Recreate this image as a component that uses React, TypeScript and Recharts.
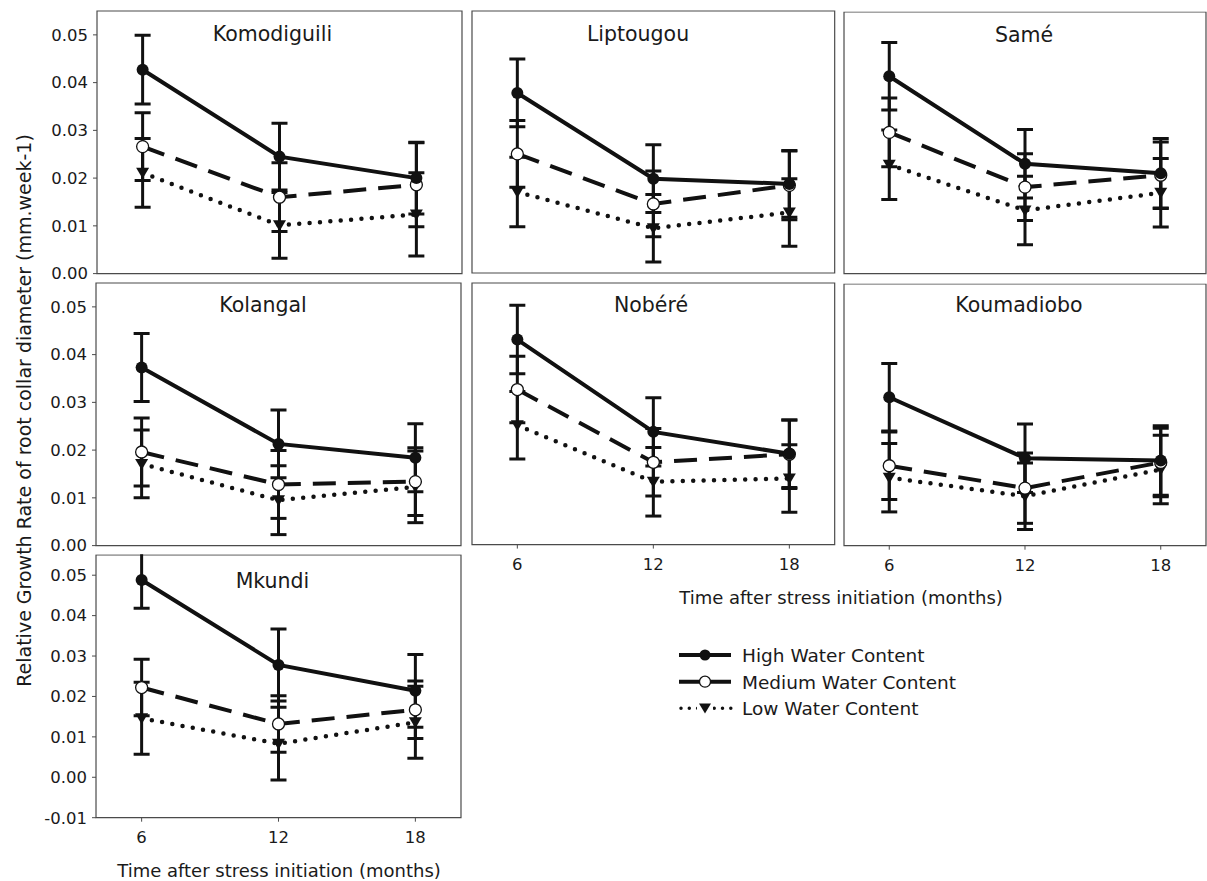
import React from 'react'
import { LineChart, Line, XAxis, YAxis, ErrorBar, ReferenceArea } from 'recharts'

const months = [6, 12, 18]
const sites = ['Komodiguili', 'Liptougou', 'Samé', 'Kolangal', 'Nobéré', 'Koumadiobo', 'Mkundi']

// rows follow `sites`, columns follow `months`
const highMean = [
  [0.0427, 0.0245, 0.02],
  [0.0378, 0.0198, 0.0187],
  [0.0415, 0.0231, 0.0211],
  [0.0373, 0.0213, 0.0184],
  [0.0431, 0.0237, 0.0191],
  [0.0312, 0.0184, 0.0179],
  [0.0488, 0.0278, 0.0214],
]
const highErr = [
  [0.0072, 0.007, 0.0075],
  [0.0071, 0.0071, 0.007],
  [0.0071, 0.0072, 0.0073],
  [0.0071, 0.0071, 0.0071],
  [0.0072, 0.0072, 0.0071],
  [0.0071, 0.0072, 0.0073],
  [0.007, 0.0089, 0.009],
]
const medMean = [
  [0.0266, 0.016, 0.0186],
  [0.025, 0.0145, 0.0184],
  [0.0297, 0.0182, 0.0207],
  [0.0196, 0.0128, 0.0134],
  [0.0326, 0.0173, 0.019],
  [0.0168, 0.0121, 0.0175],
  [0.0222, 0.0132, 0.0167],
]
const medErr = [
  [0.0071, 0.0072, 0.0088],
  [0.007, 0.0069, 0.0072],
  [0.0072, 0.007, 0.007],
  [0.0071, 0.0071, 0.0071],
  [0.007, 0.0071, 0.0072],
  [0.0071, 0.0074, 0.0072],
  [0.007, 0.007, 0.0071],
]
const lowMean = [
  [0.0211, 0.0101, 0.0124],
  [0.017, 0.0094, 0.0127],
  [0.0229, 0.0133, 0.017],
  [0.0171, 0.0095, 0.0123],
  [0.0251, 0.0132, 0.0139],
  [0.0143, 0.0104, 0.016],
  [0.0146, 0.0083, 0.0136],
]
const lowErr = [
  [0.0072, 0.0069, 0.0087],
  [0.0073, 0.0071, 0.0071],
  [0.0073, 0.0072, 0.0072],
  [0.0071, 0.0072, 0.0075],
  [0.0071, 0.0072, 0.0071],
  [0.0072, 0.007, 0.0072],
  [0.0089, 0.009, 0.0089],
]
const yTicks = [0, 0.01, 0.02, 0.03, 0.04, 0.05]
const yTicksMkundi = [-0.01, 0, 0.01, 0.02, 0.03, 0.04, 0.05]
const legendLabels = ['High Water Content', 'Medium Water Content', 'Low Water Content']

// panel boxes (plot area) in page pixels
const panels = [
  { site: 0, left: 96.5, top: 10.7, w: 365, h: 262.6, yLabels: true, xLabels: false, titleX: 272.5, titleY: 40.7 },
  { site: 1, left: 472, top: 10.7, w: 362.7, h: 262, yLabels: false, xLabels: false, titleX: 638, titleY: 40.7 },
  { site: 2, left: 844, top: 12.3, w: 362, h: 261.7, yLabels: false, xLabels: false, titleX: 1024, titleY: 42 },
  { site: 3, left: 96, top: 282.7, w: 365, h: 262.6, yLabels: true, xLabels: false, titleX: 263, titleY: 312 },
  { site: 4, left: 472, top: 282.7, w: 362.7, h: 261.6, yLabels: false, xLabels: true, titleX: 651, titleY: 311.5 },
  { site: 5, left: 844, top: 284.3, w: 362, h: 261.7, yLabels: false, xLabels: true, titleX: 1019, titleY: 312 },
  { site: 6, left: 95.5, top: 555, w: 365, h: 262.7, yLabels: true, xLabels: true, titleX: 272.5, titleY: 587.5 },
]

const INK = '#111'
const AXIS = '#4a4a4a'
const YW = 62
const MT = 6
const MR = 6
const XH = 40

const filledDot = (p: any) => (
  <circle key={`h${p.index}`} cx={p.cx} cy={p.cy} r={6} fill={INK} />
)
const openDot = (p: any) => (
  <circle key={`m${p.index}`} cx={p.cx} cy={p.cy} r={6} fill="#fff" stroke={INK} strokeWidth={1.3} />
)
const triangleDot = (p: any) => (
  <path
    key={`l${p.index}`}
    d={`M${p.cx - 6.5},${p.cy - 5} L${p.cx + 6.5},${p.cy - 5} L${p.cx},${p.cy + 6} Z`}
    fill={INK}
  />
)

function Panel({ cfg }: { cfg: (typeof panels)[number] }) {
  const i = cfg.site
  const isMk = sites[i] === 'Mkundi'
  const yMin = isMk ? -0.01 : 0
  const data = months.map((m, j) => ({
    month: m,
    high: highMean[i][j],
    highErr: highErr[i][j],
    med: medMean[i][j],
    medErr: medErr[i][j],
    low: lowMean[i][j],
    lowErr: lowErr[i][j],
  }))
  const tickStyle = { fontSize: 16.5, fill: '#1a1a1a' }

  return (
    // clip anything that pokes above the top of the box (error bars running off scale)
    <div
      style={{
        position: 'absolute',
        left: cfg.left - YW,
        top: cfg.top - MT,
        clipPath: `inset(${MT - 0.7}px 0 0 0)`,
      }}
    >
      <LineChart
        width={YW + cfg.w + MR}
        height={MT + cfg.h + XH}
        data={data}
        margin={{ top: MT, right: MR, bottom: 0, left: 0 }}
      >
        <XAxis
          type="number"
          dataKey="month"
          domain={[4, 20]}
          ticks={months}
          allowDataOverflow
          height={XH}
          axisLine={false}
          tickLine={{ stroke: AXIS }}
          tickSize={4}
          tickMargin={10}
          tick={cfg.xLabels ? tickStyle : false}
        />
        <YAxis
          type="number"
          domain={[yMin, 0.055]}
          ticks={isMk ? yTicksMkundi : yTicks}
          allowDataOverflow
          width={YW}
          axisLine={false}
          tickLine={{ stroke: AXIS }}
          tickSize={4}
          tickMargin={5}
          tickFormatter={(v: number) => v.toFixed(2)}
          tick={cfg.yLabels ? tickStyle : false}
        />
        <ReferenceArea x1={4} x2={20} y1={yMin} y2={0.055} fill="none" stroke={AXIS} strokeWidth={1.2} ifOverflow="visible" />
        <Line dataKey="low" stroke={INK} strokeWidth={4.5} strokeDasharray="0 10.4" strokeLinecap="round" dot={triangleDot} activeDot={false} isAnimationActive={false} />
        <Line dataKey="med" stroke={INK} strokeWidth={4} strokeDasharray="23 12" dot={openDot} activeDot={false} isAnimationActive={false} />
        <Line dataKey="high" stroke={INK} strokeWidth={4} dot={filledDot} activeDot={false} isAnimationActive={false} />
        {/* error bars drawn last so they sit over the markers */}
        <Line dataKey="low" stroke="none" dot={false} activeDot={false} isAnimationActive={false}>
          <ErrorBar dataKey="lowErr" width={8} strokeWidth={3} stroke={INK} />
        </Line>
        <Line dataKey="med" stroke="none" dot={false} activeDot={false} isAnimationActive={false}>
          <ErrorBar dataKey="medErr" width={8} strokeWidth={3} stroke={INK} />
        </Line>
        <Line dataKey="high" stroke="none" dot={false} activeDot={false} isAnimationActive={false}>
          <ErrorBar dataKey="highErr" width={8} strokeWidth={3} stroke={INK} />
        </Line>
      </LineChart>
    </div>
  )
}

export default function App() {
  const xTitle = 'Time after stress initiation (months)'
  return (
    <div
      style={{
        position: 'absolute',
        left: 0,
        top: 0,
        width: 1207,
        height: 881,
        background: '#fff',
        overflow: 'hidden',
        fontFamily: '"DejaVu Sans", sans-serif',
      }}
    >
      {panels.map((p) => (
        <Panel key={p.site} cfg={p} />
      ))}
      <svg width={1207} height={881} style={{ position: 'absolute', left: 0, top: 0, pointerEvents: 'none' }}>
        {panels.map((p) => (
          <text key={p.site} x={p.titleX} y={p.titleY} textAnchor="middle" fontSize={20.5} fill="#1a1a1a">
            {sites[p.site]}
          </text>
        ))}
        <text transform="translate(31,410.5) rotate(-90)" textAnchor="middle" fontSize={19} fill="#1a1a1a">
          Relative Growth Rate of root collar diameter (mm.week-1)
        </text>
        <text x={279} y={876.5} textAnchor="middle" fontSize={18} fill="#1a1a1a">{xTitle}</text>
        <text x={841} y={604} textAnchor="middle" fontSize={18} fill="#1a1a1a">{xTitle}</text>

        {/* legend */}
        <line x1={679} x2={731} y1={655} y2={655} stroke={INK} strokeWidth={4} />
        <circle cx={705} cy={655} r={5.5} fill={INK} />
        <line x1={679} x2={731} y1={681.7} y2={681.7} stroke={INK} strokeWidth={4} />
        <circle cx={705} cy={681.7} r={5.5} fill="#fff" stroke={INK} strokeWidth={1.3} />
        <line x1={681} x2={731} y1={708.3} y2={708.3} stroke={INK} strokeWidth={3.5} strokeDasharray="0 8.3" strokeLinecap="round" />
        <rect x={697} y={703} width={16} height={11} fill="#fff" />
        <path d="M699,703.5 L711,703.5 L705,713.5 Z" fill={INK} />
        {legendLabels.map((t, k) => (
          <text key={t} x={742} y={662 + k * 26.6} fontSize={18.5} fill="#1a1a1a">{t}</text>
        ))}
      </svg>
    </div>
  )
}
